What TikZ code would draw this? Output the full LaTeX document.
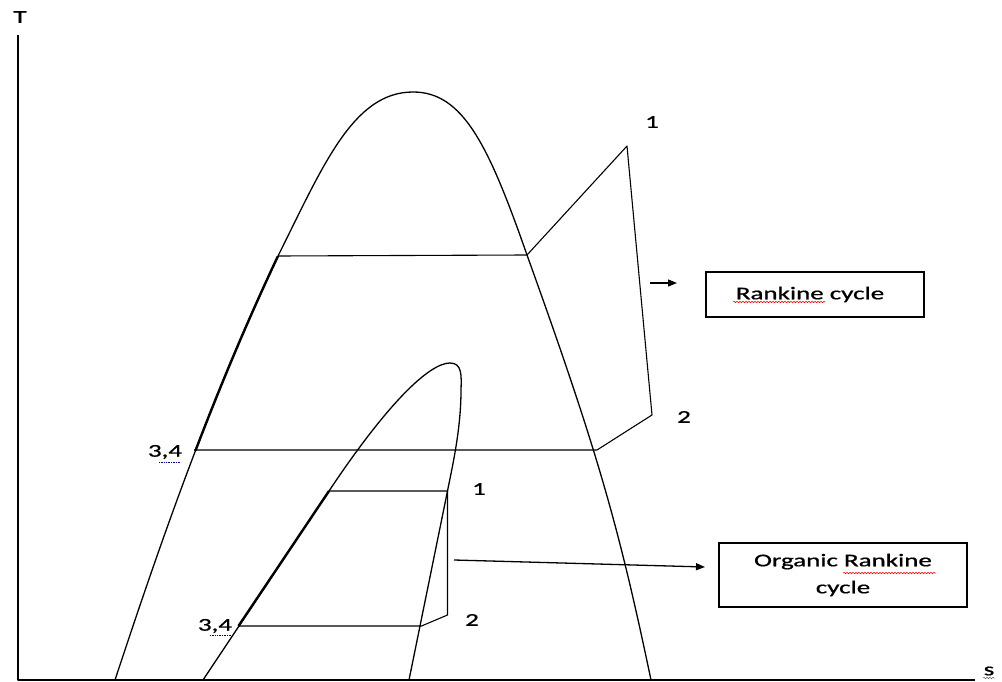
\documentclass[tikz,border=0pt]{standalone}
\usepackage{fontspec}
\usepackage{graphicx}
\setmainfont{Carlito}[FakeBold=0.7]
\usetikzlibrary{decorations.pathmorphing,arrows.meta}
\newcommand\widetxt[1]{\scalebox{1.5}[1]{#1}}
\begin{document}
\begin{tikzpicture}[x=1pt,y=-1pt,
  curve/.style={line width=1.3pt, line join=round},
  cyc/.style={line width=1.1pt, line join=round},
  liq/.style={line width=2.4pt},
  lbl/.style={font=\fontsize{18}{27}\selectfont, inner sep=0pt},
  box/.style={draw, line width=1.1pt, inner sep=0pt, font=\fontsize{18}{27}\selectfont},
  arr/.style={line width=1.3pt, -{Triangle[length=9pt,width=7pt]}},
  spell/.style={red, line width=0.5pt, decorate, decoration={snake, amplitude=0.8pt, segment length=3pt}},
  gram/.style={blue!60!black, line width=0.7pt, densely dotted}]

\useasboundingbox (0,0) rectangle (1002,682);
\fill[white] (0,0) rectangle (1002,682);

% axes
\coordinate (Ttop) at (18,35);
\coordinate (O) at (18,680);
\coordinate (Send) at (975,680);
\draw[curve] (Ttop) -- (O) -- (Send);
\node[lbl] (T) at (20,17) {\widetxt{T}};
\node[lbl] (S) at (989,671) {\widetxt{s}};
\draw[spell, black!60] (983,678) -- (995,678);

% key points
\coordinate (RA) at (278,256);
\coordinate (RB) at (527,255);
\coordinate (R1) at (627,146);
\coordinate (R2) at (652,415);
\coordinate (R2b) at (597,450);
\coordinate (R34) at (194,450);
\coordinate (OA) at (329,491);
\coordinate (O1) at (447.5,491);
\coordinate (O2) at (447.5,615);
\coordinate (O2b) at (421.5,626);
\coordinate (O34) at (238.5,626);

% large saturation dome
\draw[curve] (115,680) .. controls (164.5,530) and (212,396) .. (RA)
  .. controls (323,166) and (353,92) .. (413,92)
  .. controls (463,92) and (488.5,145) .. (RB)
  .. controls (599,455) and (619.5,530) .. (651,680);
\begin{scope}
  \clip (150,256) rectangle (300,450);
  \draw[liq] (115,680) .. controls (164.5,530) and (212,396) .. (RA);
\end{scope}

% small (organic fluid) dome
\draw[curve] (203,680) -- (OA)
  .. controls (389,401) and (430,363) .. (450,363)
  .. controls (462,363) and (461.5,375) .. (461,390)
  .. controls (461,430) and (452,468) .. (O1) -- (409,680);
\draw[liq] (O34) -- (OA);

% Rankine cycle
\draw[cyc] (RA) -- (RB) -- (R1) -- (R2) -- (R2b) -- (R34);

% Organic Rankine cycle
\draw[cyc] (OA) -- (O1) -- (O2) -- (O2b) -- (O34);

% point labels
\node[lbl] (l1) at (652,122) {\widetxt{1}};
\node[lbl] (l2) at (684,417) {\widetxt{2}};
\node[lbl] (l34) at (165,452) {\widetxt{3,4}};
\draw[gram] (159,462) -- (180,462);
\node[lbl] (m1) at (479,489) {\widetxt{1}};
\node[lbl] (m2) at (472,620) {\widetxt{2}};
\node[lbl] (m34) at (215,626) {\widetxt{3,4}};
\draw[gram] (210,635) -- (231,635);

% legend boxes
\node[box, minimum width=218pt, minimum height=45pt] (rbox) at (815,294.5) {\widetxt{Rankine cycle}\hspace*{10pt}};
\draw[spell] (733,302) -- (825,302);
\coordinate (ra) at (650,283);
\coordinate (rb) at (677,283);
\draw[arr] (ra) -- (rb);

\node[box, minimum width=248pt, minimum height=64pt, align=center] (obox) at (843,575) {\widetxt{Organic Rankine}\\\widetxt{cycle}};
\draw[spell] (843,573) -- (936,573);
\coordinate (oa) at (454,560);
\coordinate (ob) at (705,567);
\draw[arr] (oa) -- (ob);
\end{tikzpicture}
\end{document}
